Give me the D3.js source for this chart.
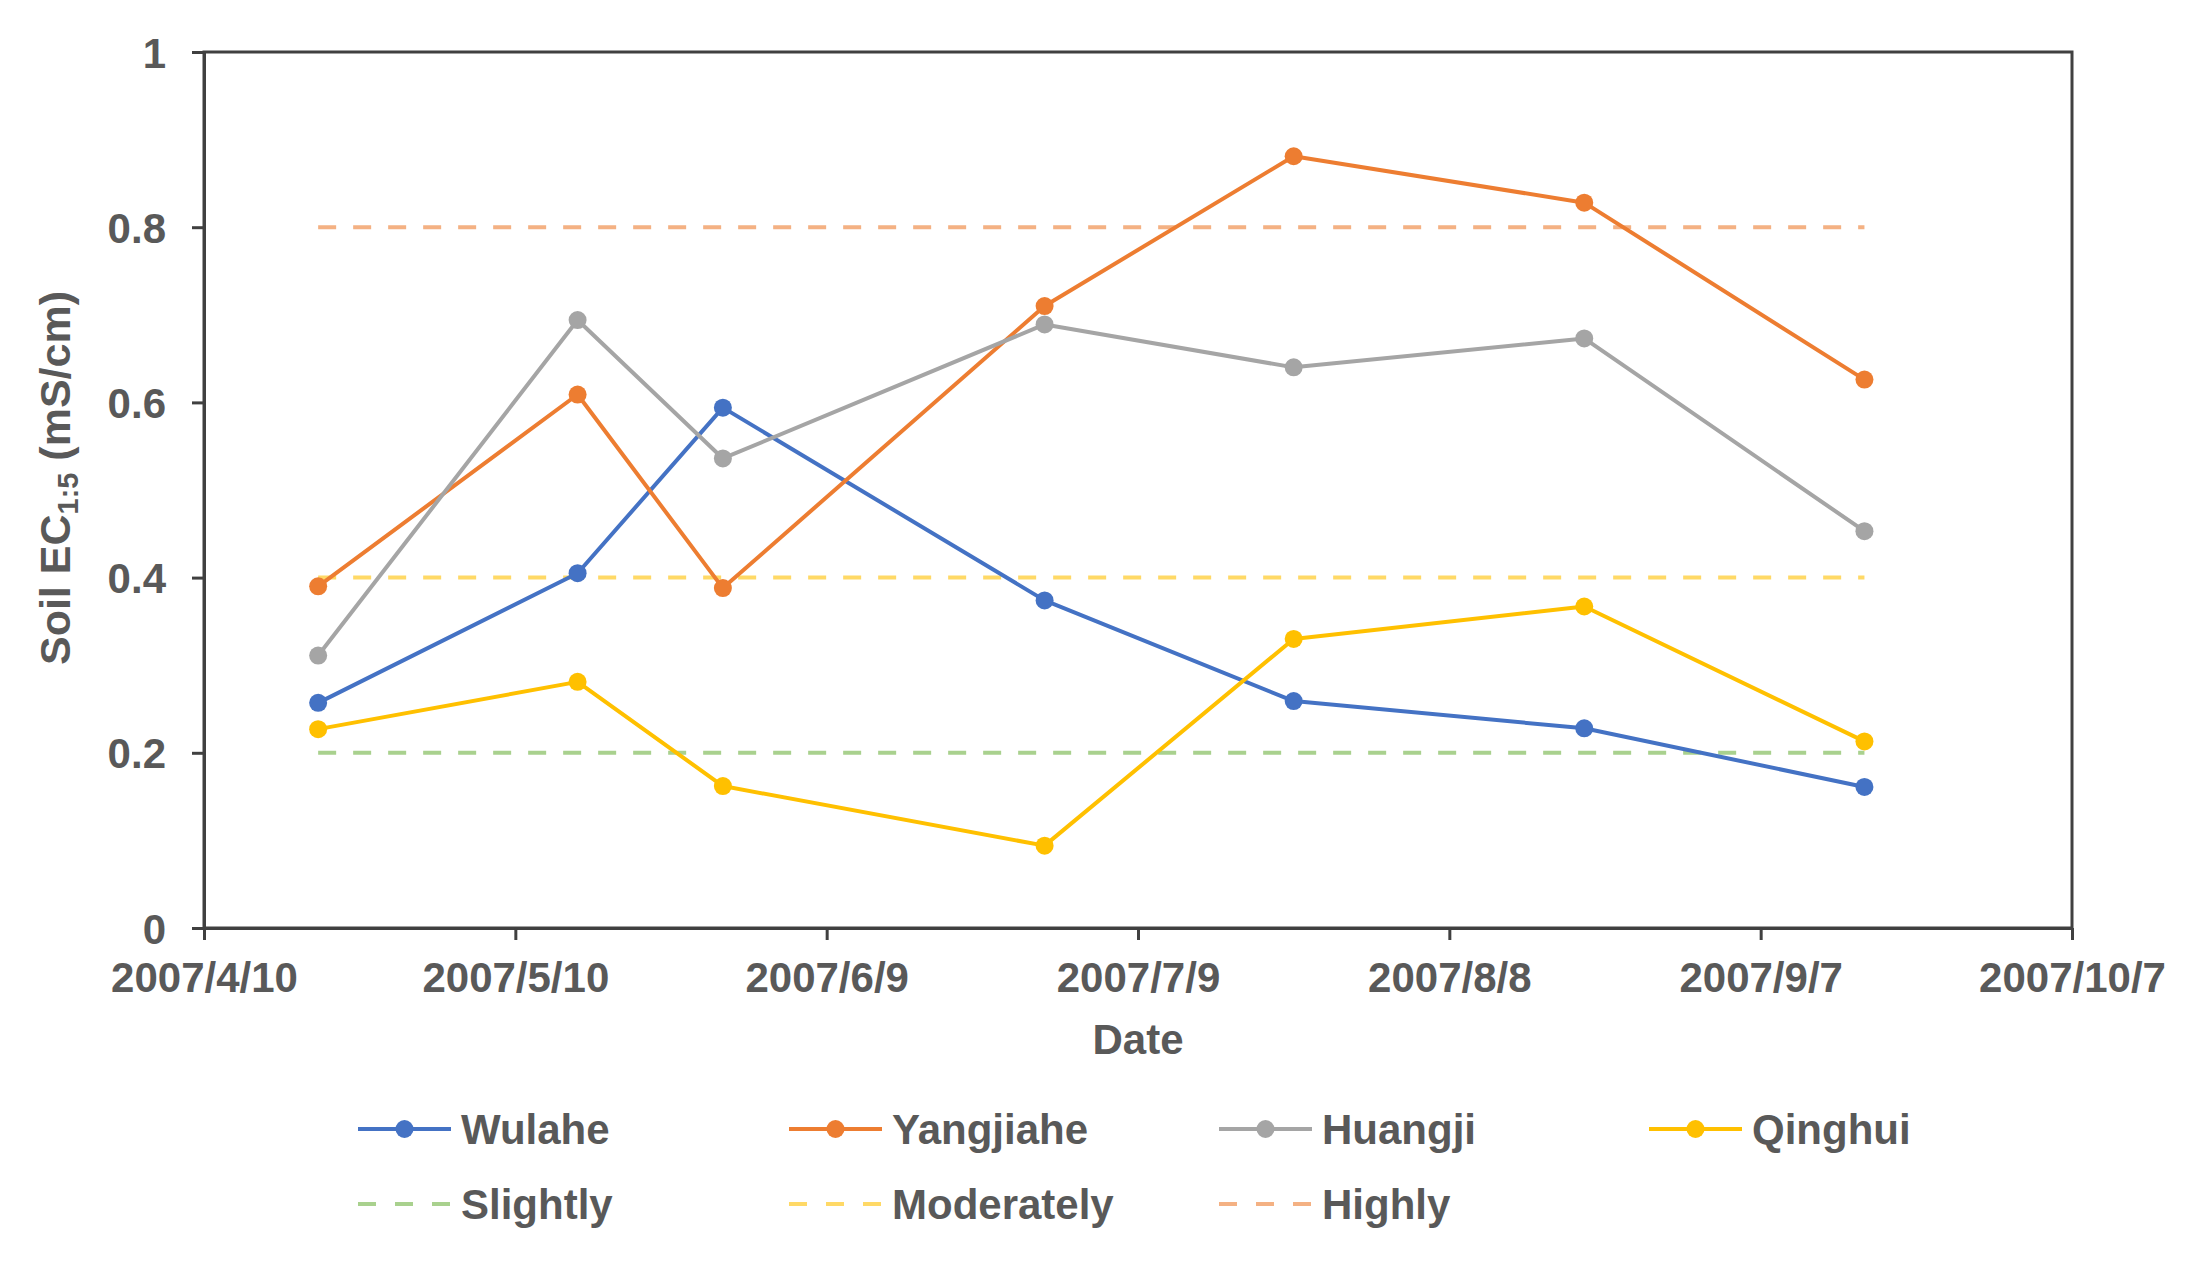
<!DOCTYPE html>
<html>
<head>
<meta charset="utf-8">
<script src="https://cdnjs.cloudflare.com/ajax/libs/d3/7.8.5/d3.min.js"></script>
<style>
  html, body { margin: 0; padding: 0; background: #fff; }
  svg { display: block; }
  .axis text { font-family: "Liberation Sans", Arial, sans-serif; font-weight: bold; font-size: 42px; fill: #595959; }
  .axis path, .axis line { stroke: #404040; stroke-width: 3; }
</style>
</head>
<body>
<div id="chart"></div>
<script>
// Soil EC1:5 over the 2007 growing season
const sampleDates = ['2007-04-21', '2007-05-16', '2007-05-30', '2007-06-30', '2007-07-24', '2007-08-21', '2007-09-17'];
const wulahe    = [0.257, 0.405, 0.594, 0.374, 0.259, 0.228, 0.161];
const yangjiahe = [0.390, 0.609, 0.388, 0.710, 0.881, 0.828, 0.626];
const huangji   = [0.311, 0.694, 0.536, 0.689, 0.640, 0.673, 0.453];
const qinghui   = [0.227, 0.281, 0.162, 0.094, 0.330, 0.367, 0.213];

const seriesNames = ['Wulahe', 'Yangjiahe', 'Huangji', 'Qinghui'];
const thresholdNames = ['Slightly', 'Moderately', 'Highly'];
const thresholdValues = [0.2, 0.4, 0.8];

const xTickLabels = ['2007/4/10', '2007/5/10', '2007/6/9', '2007/7/9', '2007/8/8', '2007/9/7', '2007/10/7'];
const yTicks = [0, 0.2, 0.4, 0.6, 0.8, 1];

const seriesColors = ['#4472C4', '#ED7D31', '#A5A5A5', '#FFC000'];
const thresholdColors = ['#A9D18E', '#FFD966', '#F4B183'];

const width = 2203, height = 1271;
const margin = { top: 52, right: 131, bottom: 343, left: 204 };
const innerW = width - margin.left - margin.right;
const innerH = height - margin.top - margin.bottom;

const parseIso = d3.utcParse('%Y-%m-%d');
const parseTick = d3.utcParse('%Y/%m/%d');
const fmtTick = d3.utcFormat('%Y/%-m/%-d');

const dates = sampleDates.map(parseIso);
const tickDates = xTickLabels.map(parseTick);

const series = [wulahe, yangjiahe, huangji, qinghui].map((vals, i) => ({
    name: seriesNames[i],
    color: seriesColors[i],
    points: vals.map((v, j) => ({ date: dates[j], value: v }))
}));

const svg = d3.select('#chart')
    .append('svg')
    .attr('width', width)
    .attr('height', height);

const g = svg.append('g').attr('transform', `translate(${margin.left},${margin.top})`);

const x = d3.scaleUtc()
    .domain([tickDates[0], tickDates[tickDates.length - 1]])
    .range([0, innerW]);

const y = d3.scaleLinear()
    .domain([0, 1])
    .range([innerH, 0]);

// frame (top + right edges)
g.append('rect')
    .attr('x', 0).attr('y', 0)
    .attr('width', innerW).attr('height', innerH)
    .attr('fill', 'none')
    .attr('stroke', '#404040')
    .attr('stroke-width', 3);

// axes
g.append('g')
    .attr('class', 'axis')
    .attr('transform', `translate(0,${innerH})`)
    .call(d3.axisBottom(x).tickValues(tickDates).tickFormat(fmtTick).tickSize(12).tickSizeOuter(0).tickPadding(22));

g.append('g')
    .attr('class', 'axis')
    .call(d3.axisLeft(y).tickValues(yTicks).tickFormat(d3.format('~g')).tickSize(12).tickSizeOuter(0).tickPadding(26))
    .selectAll('text').attr('dy', '0.36em');

// salinity thresholds
const firstDate = dates[0], lastDate = dates[dates.length - 1];
g.append('g')
    .selectAll('line')
    .data(thresholdValues)
    .join('line')
    .attr('x1', x(firstDate))
    .attr('x2', x(lastDate))
    .attr('y1', d => y(d))
    .attr('y2', d => y(d))
    .attr('stroke', (d, i) => thresholdColors[i])
    .attr('stroke-width', 4)
    .attr('stroke-dasharray', '18 17');

// station lines
const line = d3.line().x(d => x(d.date)).y(d => y(d.value));

const sg = g.append('g')
    .selectAll('g')
    .data(series)
    .join('g');

sg.append('path')
    .attr('d', d => line(d.points))
    .attr('fill', 'none')
    .attr('stroke', d => d.color)
    .attr('stroke-width', 4)
    .attr('stroke-linejoin', 'round');

sg.selectAll('circle')
    .data(d => d.points.map(p => ({ ...p, color: d.color })))
    .join('circle')
    .attr('cx', d => x(d.date))
    .attr('cy', d => y(d.value))
    .attr('r', 9)
    .attr('fill', d => d.color);

// axis titles
const fontFam = '"Liberation Sans", Arial, sans-serif';

svg.append('text')
    .attr('x', margin.left + innerW / 2)
    .attr('y', 1054)
    .attr('text-anchor', 'middle')
    .attr('font-family', fontFam)
    .attr('font-weight', 'bold')
    .attr('font-size', 42)
    .attr('fill', '#595959')
    .text('Date');

const yTitle = svg.append('text')
    .attr('transform', 'translate(70,478) rotate(-90)')
    .attr('text-anchor', 'middle')
    .attr('font-family', fontFam)
    .attr('font-weight', 'bold')
    .attr('font-size', 43)
    .attr('fill', '#595959');
yTitle.append('tspan').text('Soil EC');
yTitle.append('tspan').attr('font-size', 29).attr('dy', 8).text('1:5');
yTitle.append('tspan').attr('dy', -8).text(' (mS/cm)');

// legend
const colX = [358, 789, 1219, 1649];
const rowY = [1129, 1204];
const sampleLen = 93;

const legendItems = [
    ...series.map((s, i) => ({ name: s.name, color: s.color, dashed: false, col: i, row: 0 })),
    ...thresholdNames.map((n, i) => ({ name: n, color: thresholdColors[i], dashed: true, col: i, row: 1 }))
];

const leg = svg.append('g')
    .selectAll('g')
    .data(legendItems)
    .join('g')
    .attr('transform', d => `translate(${colX[d.col]},${rowY[d.row]})`);

leg.append('line')
    .attr('x1', 0).attr('x2', sampleLen)
    .attr('y1', 0).attr('y2', 0)
    .attr('stroke', d => d.color)
    .attr('stroke-width', 4)
    .attr('stroke-dasharray', d => d.dashed ? '18 19' : null);

leg.filter(d => !d.dashed)
    .append('circle')
    .attr('cx', sampleLen / 2)
    .attr('cy', 0)
    .attr('r', 9)
    .attr('fill', d => d.color);

leg.append('text')
    .attr('x', sampleLen + 10)
    .attr('y', 0)
    .attr('dy', '0.36em')
    .attr('font-family', fontFam)
    .attr('font-weight', 'bold')
    .attr('font-size', 42)
    .attr('fill', '#595959')
    .text(d => d.name);
</script>
</body>
</html>
